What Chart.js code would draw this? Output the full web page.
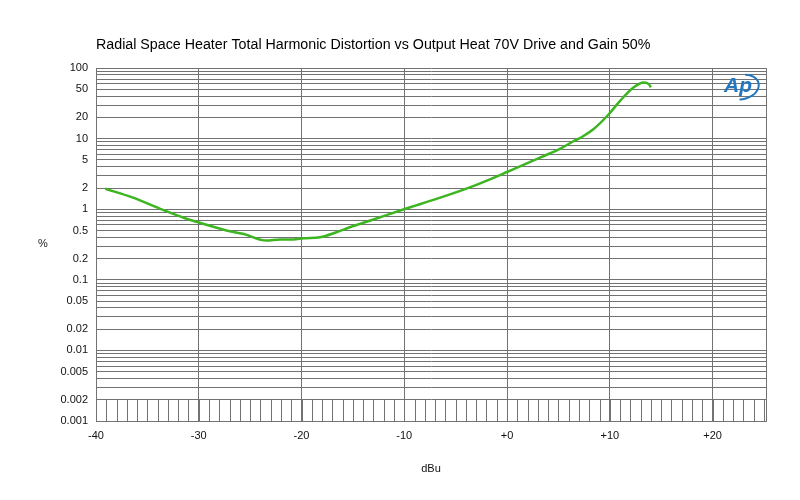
<!DOCTYPE html>
<html>
<head>
<meta charset="utf-8">
<script src="https://cdn.jsdelivr.net/npm/chart.js@4.4.1/dist/chart.umd.min.js"></script>
<style>
  html, body { margin: 0; padding: 0; background: #ffffff; }
  #wrap { width: 800px; height: 500px; }
</style>
</head>
<body>
<div id="wrap"><canvas id="c" width="800" height="500"></canvas></div>
<script>
// ---- data ----
const chartTitle = 'Radial Space Heater Total Harmonic Distortion vs Output Heat 70V Drive and Gain 50%';
const xAxisTitle = 'dBu';
const yAxisTitle = '%';

const dbuValues = [-39.1, -36.4, -33.8, -31.2, -29.9, -27.3, -25.7, -23.4, -22.1, -20.8, -19.8, -18.2,
                   -16.6, -15.3, -13.0, -10.1, -6.5, -3.3, 0.0, 3.2, 5.2, 6.5, 7.2, 8.4, 9.9, 11.0,
                   12.3, 13.3, 13.8, 14.0];
const thdValues = [1.95, 1.46, 1.02, 0.733, 0.643, 0.50, 0.449, 0.36, 0.373, 0.373, 0.389, 0.402,
                   0.473, 0.557, 0.716, 0.993, 1.46, 2.13, 3.37, 5.39, 7.23, 9.27, 10.4, 13.6, 22.2, 34.4,
                   53.2, 62.7, 59.3, 53.2];

const xTickValues = [-40, -30, -20, -10, 0, 10, 20];
const xTickLabels = ['-40', '-30', '-20', '-10', '+0', '+10', '+20'];
const xMin = -40, xMax = 25.2;

const yTickLabels = ['0.001', '0.002', '0.005', '0.01', '0.02', '0.05', '0.1', '0.2', '0.5',
                     '1', '2', '5', '10', '20', '50', '100'];
const yDecades = [0.001, 0.01, 0.1, 1, 10];
const yMantissas = [1, 2, 3, 4, 5, 6, 7, 8, 9];
const yMin = 0.001, yMax = 100;

// ---- build chart ----
const lineColor = '#3cb521';
const gridColor = '#727272';

const points = dbuValues.map((x, i) => ({ x: x, y: thdValues[i] }));

const yGridValues = [];
yDecades.forEach(d => yMantissas.forEach(m => yGridValues.push(parseFloat((m * d).toPrecision(6)))));
yGridValues.push(yMax);

function labelForY(v) {
  for (const s of yTickLabels) {
    const n = parseFloat(s);
    if (Math.abs(n - v) / n < 1e-6) return s;
  }
  return '';
}

const extrasPlugin = {
  id: 'extras',
  beforeDatasetsDraw(chart) {
    const { ctx, scales: { x, y } } = chart;
    // short vertical minor ticks along the bottom band (AP style)
    const yBottom = y.getPixelForValue(0.001);
    const yTop = y.getPixelForValue(0.002);
    ctx.save();
    ctx.strokeStyle = gridColor;
    ctx.lineWidth = 1;
    ctx.beginPath();
    for (let v = Math.ceil(xMin); v <= Math.floor(xMax); v++) {
      const px = Math.round(x.getPixelForValue(v)) + 0.5;
      ctx.moveTo(px, yBottom);
      ctx.lineTo(px, yTop);
    }
    ctx.stroke();
    ctx.restore();
  },
  afterDraw(chart) {
    const { ctx, chartArea } = chart;
    ctx.save();
    // "%" axis label (horizontal)
    ctx.fillStyle = '#222';
    ctx.font = '11px "Liberation Sans", Arial, sans-serif';
    ctx.textAlign = 'center';
    ctx.textBaseline = 'middle';
    ctx.fillText(yAxisTitle, 43, 244);
    // AP logo
    const lx = chartArea.right - 42, ly = chartArea.top + 18;
    ctx.fillStyle = '#2277c0';
    ctx.font = 'italic bold 21px "Liberation Sans", Arial, sans-serif';
    ctx.textAlign = 'left';
    ctx.textBaseline = 'middle';
    ctx.fillText('Ap', lx, ly);
    ctx.strokeStyle = '#2277c0';
    ctx.lineWidth = 2;
    ctx.beginPath();
    ctx.ellipse(lx + 18, ly + 1, 17, 12, -0.25, -1.2, 1.9);
    ctx.stroke();
    ctx.restore();
  }
};

new Chart(document.getElementById('c'), {
  type: 'line',
  data: {
    datasets: [{
      data: points,
      borderColor: lineColor,
      borderWidth: 2.5,
      pointRadius: 0,
      fill: false,
      cubicInterpolationMode: 'monotone'
    }]
  },
  options: {
    responsive: false,
    animation: false,
    layout: { padding: { left: 0, right: 34, top: 0, bottom: 0 } },
    plugins: {
      legend: { display: false },
      tooltip: { enabled: false },
      title: {
        display: true,
        text: chartTitle,
        align: 'start',
        fullSize: false,
        color: '#000',
        font: { family: '"Liberation Sans", Arial, sans-serif', size: 14.25, weight: 'normal' },
        padding: { top: 37, bottom: 14 }
      }
    },
    scales: {
      x: {
        type: 'linear',
        min: xMin,
        max: xMax,
        afterBuildTicks(scale) {
          scale.ticks = xTickValues.map(v => ({ value: v })).concat([{ value: xMax }]);
        },
        afterFit(scale) { scale.height = 79; },
        ticks: {
          autoSkip: false,
          maxRotation: 0,
          padding: 8,
          color: '#111',
          font: { family: '"Liberation Sans", Arial, sans-serif', size: 11 },
          callback(v) {
            const i = xTickValues.indexOf(v);
            return i >= 0 ? xTickLabels[i] : '';
          }
        },
        grid: { color: gridColor, lineWidth: 1, drawTicks: false },
        border: { color: gridColor },
        title: {
          display: true,
          text: xAxisTitle,
          color: '#111',
          font: { family: '"Liberation Sans", Arial, sans-serif', size: 11 },
          padding: { top: 0, bottom: 24 }
        }
      },
      y: {
        type: 'logarithmic',
        min: yMin,
        max: yMax,
        afterBuildTicks(scale) {
          scale.ticks = yGridValues.map(v => ({ value: v }));
        },
        afterFit(scale) { scale.width = 96; },
        ticks: {
          autoSkip: false,
          padding: 8,
          color: '#111',
          font: { family: '"Liberation Sans", Arial, sans-serif', size: 11 },
          callback(v) { return labelForY(v); }
        },
        grid: { color: gridColor, lineWidth: 1, drawTicks: false },
        border: { color: gridColor }
      }
    }
  },
  plugins: [extrasPlugin]
});
</script>
</body>
</html>
